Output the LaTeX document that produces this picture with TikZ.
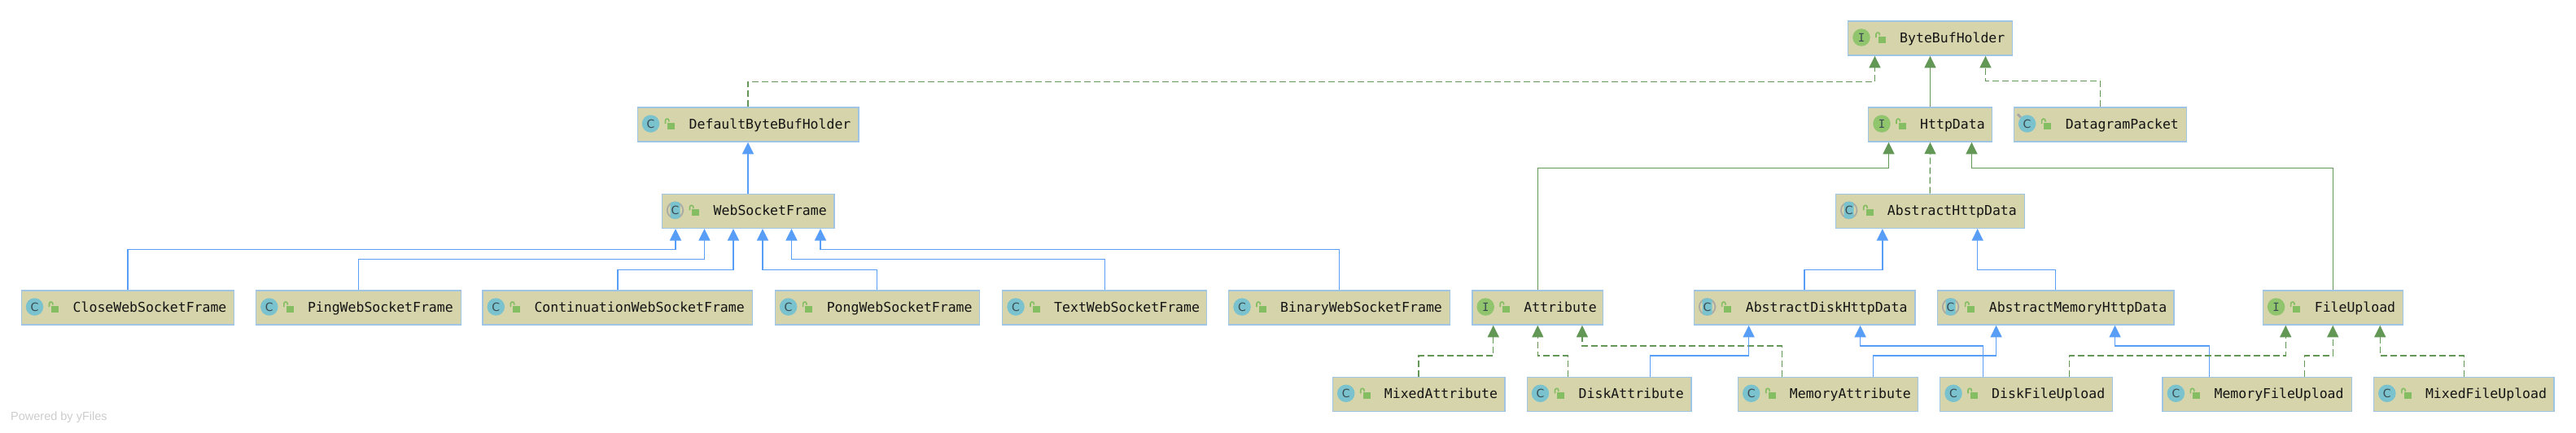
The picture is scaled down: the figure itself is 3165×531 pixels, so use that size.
\documentclass[tikz,border=0pt]{standalone}
\usepackage{fontspec}
\setmainfont{DejaVu Sans Mono}
\newfontfamily\footfont{Liberation Sans}
\newfontfamily\iconfont{DejaVu Sans}
\usetikzlibrary{arrows.meta}
\definecolor{boxfill}{HTML}{D6D4AB}
\definecolor{boxline}{HTML}{9FC4E4}
\definecolor{classblue}{HTML}{589DF6}
\definecolor{ifacegreen}{HTML}{629755}
\definecolor{classicon}{HTML}{79C2CE}
\definecolor{ifaceicon}{HTML}{90C46D}
\definecolor{lockgreen}{HTML}{84BD62}
\definecolor{iconletter}{HTML}{3A4C52}
\definecolor{ringgrey}{HTML}{ABABA6}
\tikzstyle{box} = [rectangle, minimum width=10pt, minimum height=42.2pt, inner sep=0pt, draw=boxline, fill=boxfill, line width=1.3pt]
\tikzstyle{boxtext} = [inner sep=0pt, anchor=base west, text=black!92, font=\fontsize{16.5}{20}\selectfont]
\tikzstyle{icon} = [circle, minimum size=21.5pt, inner sep=0pt, text=iconletter, font=\iconfont\fontsize{14}{16}\selectfont]
\tikzstyle{classicn} = [icon, fill=classicon]
\tikzstyle{ifaceicn} = [icon, fill=ifaceicon, font=\fontsize{14}{16}\selectfont]
\tikzstyle{abstracticn} = [icon, fill=ringgrey,
  path picture={\fill[boxfill] (path picture bounding box.center) circle (8.7pt);
    \fill[classicon, rounded corners=3pt] ([xshift=-6pt]path picture bounding box.south) rectangle ([xshift=6pt]path picture bounding box.north);}]
\tikzstyle{arrow} = [line width=1.3pt, -{Triangle[length=14.5pt,width=14pt]}]
\tikzstyle{extendsline} = [arrow, classblue]
\tikzstyle{ifaceline} = [arrow, ifacegreen]
\tikzstyle{implline} = [arrow, ifacegreen, dash pattern=on 8pt off 4pt]
\newcommand{\umlclass}[7]{
  \pgfmathsetmacro{\boxmid}{(#2+#3)/2}
  \pgfmathsetmacro{\boxwide}{#3-#2-1.3}
  \node (#1) [box, minimum width=\boxwide pt] at (\boxmid,#4) {};
  \node (#1-icon) [#5] at ([xshift=17pt,yshift=1pt]#1.west) {#6};
  \fill[lockgreen] ([xshift=37.8pt,yshift=2.3pt]#1.west) rectangle ++(9,8.3);
  \draw[lockgreen, line width=1.6pt] ([xshift=35pt,yshift=1pt]#1.west) -- ++(0,-3.8) arc[start angle=180, end angle=0, radius=2.2pt] -- ++(0,1.5);
  \node (#1-text) [boxtext] at ([xshift=64pt,yshift=-5.5pt]#1.west) {#7};
}

\begin{document}
\begin{tikzpicture}[x=1pt,y=-1pt]
    \useasboundingbox (0,0) rectangle (3165,531);

    \umlclass{holder}{2270}{2473}{47}{ifaceicn}{I}{ByteBufHolder}
    \umlclass{defaultholder}{782.5}{1055.5}{153}{classicn}{C}{DefaultByteBufHolder}
    \umlclass{httpdata}{2295}{2448}{153}{ifaceicn}{I}{HttpData}
    \umlclass{datagram}{2473.6}{2687}{153}{classicn}{C}{DatagramPacket}
    \umlclass{wsframe}{812.5}{1025.5}{259.3}{abstracticn}{C}{WebSocketFrame}
    \umlclass{abstracthttp}{2254.7}{2487.8}{259.3}{abstracticn}{C}{AbstractHttpData}
    \umlclass{closeframe}{25.5}{288.3}{378}{classicn}{C}{CloseWebSocketFrame}
    \umlclass{pingframe}{313.8}{566.8}{378}{classicn}{C}{PingWebSocketFrame}
    \umlclass{contframe}{592.3}{925.4}{378}{classicn}{C}{ContinuationWebSocketFrame}
    \umlclass{pongframe}{951.6}{1204}{378}{classicn}{C}{PongWebSocketFrame}
    \umlclass{textframe}{1231}{1483.4}{378}{classicn}{C}{TextWebSocketFrame}
    \umlclass{binaryframe}{1509}{1782}{378}{classicn}{C}{BinaryWebSocketFrame}
    \umlclass{attribute}{1808.2}{1970.4}{378}{ifaceicn}{I}{Attribute}
    \umlclass{abstractdisk}{2080.6}{2353.6}{378}{abstracticn}{C}{AbstractDiskHttpData}
    \umlclass{abstractmemory}{2379.6}{2671.5}{378}{abstracticn}{C}{AbstractMemoryHttpData}
    \umlclass{fileupload}{2779.6}{2952.9}{378}{ifaceicn}{I}{FileUpload}
    \umlclass{mixedattr}{1636.7}{1849.5}{484.3}{classicn}{C}{MixedAttribute}
    \umlclass{diskattr}{1875.5}{2078.6}{484.3}{classicn}{C}{DiskAttribute}
    \umlclass{memoryattr}{2134.7}{2357}{484.3}{classicn}{C}{MemoryAttribute}
    \umlclass{diskupload}{2383}{2595.8}{484.3}{classicn}{C}{DiskFileUpload}
    \umlclass{memoryupload}{2656.4}{2889.8}{484.3}{classicn}{C}{MemoryFileUpload}
    \umlclass{mixedupload}{2915.8}{3138.6}{484.3}{classicn}{C}{MixedFileUpload}

    \draw[black!35, line width=3pt] (datagram-icon.135) -- ++(-4,-4);
    \node (poweredby) [inner sep=0pt, anchor=base west, text=black!20, font=\footfont\fontsize{14.5}{17}\selectfont] at (13,516) {Powered by yFiles};

    \draw[implline] (defaultholder.north) -- ++(0,-31) -| ([xshift=-68pt]holder.south);
    \draw[ifaceline] (httpdata.north) -- (holder.south);
    \draw[implline] (datagram.north) -- ++(0,-31.5) -| ([xshift=68pt]holder.south);

    \draw[extendsline] (wsframe.north) -- (defaultholder.south);
    \draw[extendsline] (closeframe.north) -- ++(0,-50) -| ([xshift=-89pt]wsframe.south);
    \draw[extendsline] (pingframe.north) -- ++(0,-38) -| ([xshift=-53.5pt]wsframe.south);
    \draw[extendsline] (contframe.north) -- ++(0,-25) -| ([xshift=-18pt]wsframe.south);
    \draw[extendsline] (pongframe.north) -- ++(0,-25) -| ([xshift=18pt]wsframe.south);
    \draw[extendsline] (textframe.north) -- ++(0,-38) -| ([xshift=53.5pt]wsframe.south);
    \draw[extendsline] (binaryframe.north) -- ++(0,-50) -| ([xshift=89pt]wsframe.south);

    \draw[ifaceline] (attribute.north) -- ++(0,-150) -| ([xshift=-51pt]httpdata.south);
    \draw[implline] (abstracthttp.north) -- (httpdata.south);
    \draw[ifaceline] (fileupload.north) -- ++(0,-150) -| ([xshift=51pt]httpdata.south);
    \draw[extendsline] (abstractdisk.north) -- ++(0,-25) -| ([xshift=-58.4pt]abstracthttp.south);
    \draw[extendsline] (abstractmemory.north) -- ++(0,-25) -| ([xshift=58.4pt]abstracthttp.south);

    \draw[implline] (mixedattr.north) -- ++(0,-25.5) -| ([xshift=-54.6pt]attribute.south);
    \draw[implline] ([xshift=-50.5pt]diskattr.north) -- ++(0,-25.5) -| (attribute.south);
    \draw[implline] ([xshift=-56.6pt]memoryattr.north) -- ++(0,-37.5) -| ([xshift=54.6pt]attribute.south);
    \draw[extendsline] ([xshift=50.5pt]diskattr.north) -- ++(0,-25.5) -| ([xshift=-68.5pt]abstractdisk.south);
    \draw[extendsline] ([xshift=55.6pt]memoryattr.north) -- ++(0,-25.5) -| ([xshift=-73pt]abstractmemory.south);
    \draw[extendsline] ([xshift=-52.8pt]diskupload.north) -- ++(0,-37.5) -| ([xshift=68.5pt]abstractdisk.south);
    \draw[extendsline] ([xshift=-58.6pt]memoryupload.north) -- ++(0,-37.5) -| ([xshift=73pt]abstractmemory.south);
    \draw[implline] ([xshift=53.3pt]diskupload.north) -- ++(0,-25.5) -| ([xshift=-58pt]fileupload.south);
    \draw[implline] ([xshift=58.6pt]memoryupload.north) -- ++(0,-25.5) -| (fileupload.south);
    \draw[implline] (mixedupload.north) -- ++(0,-25.5) -| ([xshift=58pt]fileupload.south);
\end{tikzpicture}
\end{document}
